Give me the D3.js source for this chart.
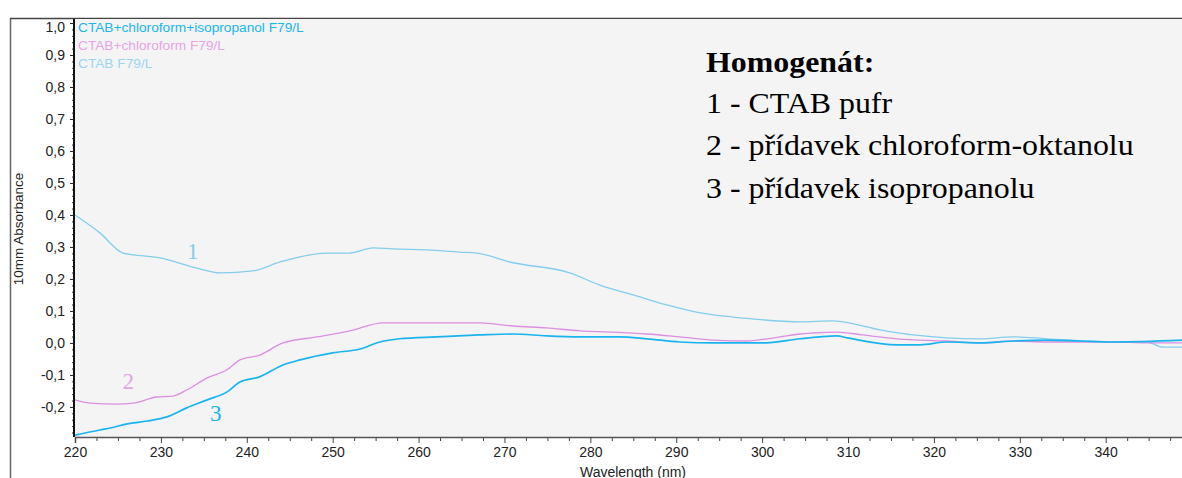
<!DOCTYPE html>
<html>
<head>
<meta charset="utf-8">
<script src="https://cdn.jsdelivr.net/npm/d3@7"></script>
<style>
  html, body { margin: 0; padding: 0; background: #ffffff; }
  svg { display: block; }
</style>
</head>
<body>
<svg id="chart" width="1182" height="478"></svg>
<script>
// UV absorbance spectra (wavelength in nm, absorbance for a 10 mm path)
const wl1 = [220, 222.9, 225.6, 229.9, 234.2, 236.9, 240.7, 243.9, 249.3, 252, 254.7, 257, 261, 264.8,
             266.8, 270.6, 277.6, 281.1, 285, 288.9, 292.8, 296.6, 298.9, 304.4, 308.2, 312.2, 313.7,
             316, 317.6, 321.5, 325.4, 329.2, 333.2, 340.8, 344.8, 346.7, 349];
const ctab = [0.400, 0.344, 0.281, 0.266, 0.234, 0.219, 0.225, 0.253, 0.281, 0.281, 0.297, 0.294, 0.291, 0.284,
              0.281, 0.253, 0.219, 0.181, 0.150, 0.119, 0.094, 0.081, 0.075, 0.066, 0.069, 0.050, 0.041,
              0.031, 0.025, 0.016, 0.013, 0.019, 0.013, 0.003, 0.003, -0.013, -0.013];

const wl2 = [220, 221.7, 224.9, 226.8, 229.5, 231.4, 233, 235.4, 237.7, 239.2, 241.5, 244.2, 248.2, 252,
             255.9, 257.8, 263.3, 267.1, 271, 274.9, 278.8, 282.6, 286.6, 290.4, 294.3, 298.2, 300.6,
             302.1, 304.4, 305.9, 308.7, 311.7, 315.7, 321.5, 325.4, 329.2, 333.2, 340.8, 344.8, 349];
const ctabChloroform = [-0.178, -0.188, -0.191, -0.188, -0.169, -0.166, -0.147, -0.109, -0.084, -0.053, -0.038, 0.0, 0.019, 0.038,
                        0.063, 0.063, 0.063, 0.063, 0.053, 0.047, 0.038, 0.034, 0.028, 0.019, 0.009, 0.006, 0.013,
                        0.019, 0.028, 0.031, 0.034, 0.025, 0.013, 0.006, 0.0, 0.006, 0.003, 0.003, 0.0, 0.0];

const wl3 = [220, 222.9, 224.1, 226.1, 228.4, 230.7, 233, 235.4, 237.7, 239.2, 241.5, 244.2, 246.2, 250,
             253.2, 255.5, 257.8, 262.1, 267.1, 271, 274.9, 278.8, 283.4, 286.6, 290.4, 294.3, 300.1,
             304.4, 306.7, 308.7, 309.9, 315.7, 318.4, 321.5, 325.4, 329.2, 333.2, 337, 340.8, 349];
const ctabChloroformIso = [-0.288, -0.272, -0.266, -0.253, -0.244, -0.231, -0.203, -0.178, -0.153, -0.122, -0.106, -0.069, -0.053, -0.031,
                           -0.019, 0.003, 0.013, 0.019, 0.025, 0.028, 0.022, 0.019, 0.019, 0.013, 0.003, 0.0, 0.0,
                           0.013, 0.019, 0.022, 0.016, -0.006, -0.006, 0.003, 0.0, 0.006, 0.009, 0.006, 0.003, 0.009];

const seriesNames = ["CTAB+chloroform+isopropanol F79/L", "CTAB+chloroform F79/L", "CTAB F79/L"];
const seriesColors = ["#19b4ee", "#dc8fe0", "#84cdec"];
const legendTextColors = ["#1ab6f0", "#e4a6e4", "#9ad6ef"];

const xTickValues = [220, 230, 240, 250, 260, 270, 280, 290, 300, 310, 320, 330, 340];
const yTickValues = [-0.2, -0.1, 0.0, 0.1, 0.2, 0.3, 0.4, 0.5, 0.6, 0.7, 0.8, 0.9, 1.0];

const noteTitle = "Homogenát:";
const noteLines = ["1 - CTAB pufr", "2 - přídavek chloroform-oktanolu", "3 - přídavek isopropanolu"];
const curveTags = ["1", "2", "3"];

const svg = d3.select("#chart");
const W = 1182, H = 478;
const plot = { left: 75, right: 1182, top: 18, bottom: 437 };
const sans = "Liberation Sans, Arial, sans-serif";
const serif = "Liberation Serif, Times New Roman, serif";

const x = d3.scaleLinear().domain([220, 349]).range([plot.left, plot.right + 1]);
const y = d3.scaleLinear().domain([-0.294, 1.0]).range([plot.bottom, 23]);

const fmt = v => d3.format(".1f")(v).replace("−", "-").replace(".", ",");

// outer frame
svg.append("line").attr("x1", 10.5).attr("x2", 10.5).attr("y1", 18).attr("y2", H)
  .attr("stroke", "#666").attr("stroke-width", 1.5);
svg.append("line").attr("x1", 10).attr("x2", W).attr("y1", 18.5).attr("y2", 18.5)
  .attr("stroke", "#444").attr("stroke-width", 1.5);

// plot background
svg.append("rect")
  .attr("x", plot.left).attr("y", 19)
  .attr("width", plot.right - plot.left).attr("height", plot.bottom - 19)
  .attr("fill", "#f4f4f4");

// x axis with minor ticks
const xMinor = d3.range(222.5, 349, 2.5).filter(v => Math.abs(v % 10) > 0.01);
svg.append("g").attr("transform", `translate(0,${plot.bottom})`)
  .call(d3.axisBottom(x).tickValues(xMinor).tickSize(4).tickFormat(""))
  .call(g => g.select(".domain").remove())
  .call(g => g.selectAll("line").attr("stroke", "#444"));
const xAxis = svg.append("g").attr("transform", `translate(0,${plot.bottom})`)
  .call(d3.axisBottom(x).tickValues(xTickValues).tickSize(6).tickPadding(4).tickFormat(d3.format("d")));
xAxis.select(".domain").attr("stroke", "#555").attr("stroke-width", 1.5);
xAxis.selectAll("line").attr("stroke", "#444");
xAxis.selectAll("text").attr("font-family", sans)
  .attr("font-size", 14).attr("fill", "#222");

// y axis with dense minor ticks
const yMinor = d3.range(-0.28, 1.0, 0.02).filter(v => Math.abs(Math.round(v * 10) - v * 10) > 0.01);
svg.append("g").attr("transform", `translate(${plot.left - 1},0)`)
  .call(d3.axisLeft(y).tickValues(yMinor).tickSize(2).tickFormat(""))
  .call(g => g.select(".domain").remove())
  .call(g => g.selectAll("line").attr("stroke", "#333"));
const yAxis = svg.append("g").attr("transform", `translate(${plot.left - 1},0)`)
  .call(d3.axisLeft(y).tickValues(yTickValues).tickSize(4).tickPadding(5).tickFormat(fmt));
yAxis.select(".domain").attr("d", `M0,19V${plot.bottom}`).attr("stroke", "#111").attr("stroke-width", 2);
yAxis.selectAll("line").attr("stroke", "#222");
yAxis.selectAll("text").attr("font-family", sans)
  .attr("font-size", 14).attr("fill", "#222");
yAxis.selectAll(".tick").filter(d => d === 1.0).select("text").attr("dy", "0.62em");

// axis titles
svg.append("text")
  .attr("transform", `translate(23,${229}) rotate(-90)`)
  .attr("text-anchor", "middle")
  .attr("font-family", sans).attr("font-size", 13.5).attr("fill", "#222")
  .text("10mm Absorbance");
svg.append("text")
  .attr("x", 633).attr("y", 477)
  .attr("text-anchor", "middle")
  .attr("font-family", sans).attr("font-size", 14).attr("fill", "#222")
  .text("Wavelength (nm)");

// spectra
const zipS = (a, b) => a.map((v, i) => [v, b[i]]);
const series = [
  { data: zipS(wl1, ctab), color: seriesColors[2], width: 1.3 },
  { data: zipS(wl2, ctabChloroform), color: seriesColors[1], width: 1.3 },
  { data: zipS(wl3, ctabChloroformIso), color: seriesColors[0], width: 1.7 }
];
const smooth = d3.line().x(d => x(d[0])).y(d => y(d[1])).curve(d3.curveMonotoneX);
svg.append("clipPath").attr("id", "plotclip").append("rect")
  .attr("x", plot.left).attr("y", 19).attr("width", plot.right - plot.left).attr("height", plot.bottom - 19);
const lines = svg.append("g").attr("clip-path", "url(#plotclip)");
series.forEach(s => {
  lines.append("path").datum(s.data)
    .attr("d", smooth)
    .attr("fill", "none").attr("stroke", s.color).attr("stroke-width", s.width);
});

// series legend (top left inside plot)
seriesNames.forEach((name, i) => {
  svg.append("text")
    .attr("x", 78).attr("y", 31.5 + i * 18)
    .attr("font-family", sans).attr("font-size", 13.7)
    .attr("fill", legendTextColors[i])
    .text(name);
});

// curve number tags
const tagPos = [[233.7, 0.262, seriesColors[2]], [226.2, -0.144, "#e0a8e2"], [236.4, -0.244, seriesColors[0]]];
tagPos.forEach((p, i) => {
  svg.append("text")
    .attr("x", x(p[0])).attr("y", y(p[1]))
    .attr("text-anchor", "middle")
    .attr("font-family", serif).attr("font-size", 23)
    .attr("fill", p[2])
    .text(curveTags[i]);
});

// annotation block
const note = svg.append("g").attr("transform", "translate(706,0) scale(1.1,1)");
note.append("text")
  .attr("x", 0).attr("y", 72)
  .attr("font-family", serif).attr("font-size", 29)
  .attr("font-weight", "bold").attr("fill", "#000")
  .text(noteTitle);
noteLines.forEach((t, i) => {
  note.append("text")
    .attr("x", 0).attr("y", 113 + i * 42.5)
    .attr("font-family", serif).attr("font-size", 29)
    .attr("fill", "#000")
    .text(t);
});
</script>
</body>
</html>
